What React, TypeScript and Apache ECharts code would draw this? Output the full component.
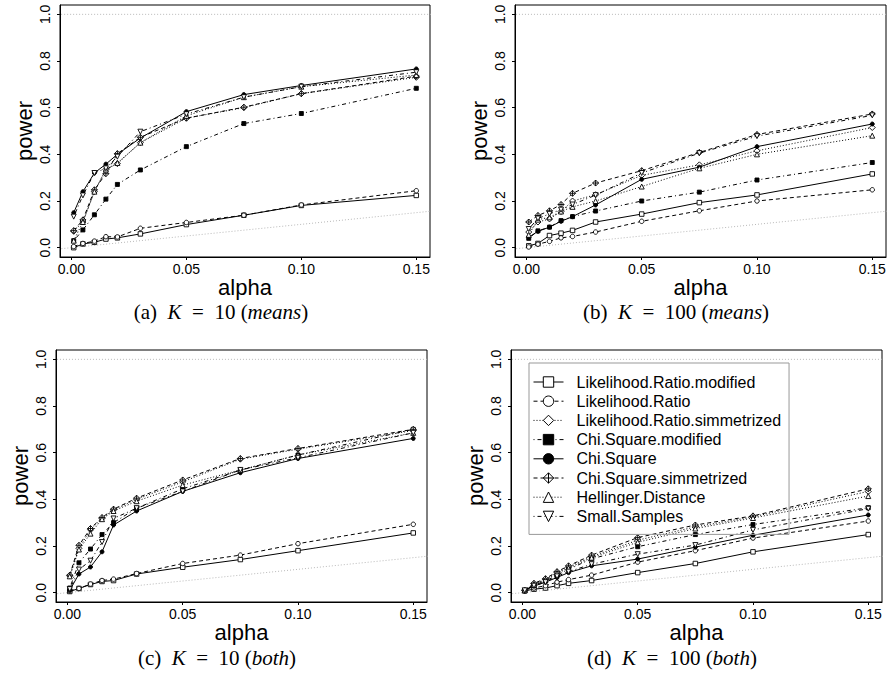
import React, { useEffect, useRef } from "react";
import * as echarts from "echarts";

// ---------- data ----------
const alpha = [0.001, 0.005, 0.01, 0.015, 0.02, 0.03, 0.05, 0.075, 0.1, 0.15];
const seriesNames = [
  "Likelihood.Ratio.modified",
  "Likelihood.Ratio",
  "Likelihood.Ratio.simmetrized",
  "Chi.Square.modified",
  "Chi.Square",
  "Chi.Square.simmetrized",
  "Hellinger.Distance",
  "Small.Samples",
];
const xTicks = [0, 0.05, 0.1, 0.15];
const yTicks = [0, 0.2, 0.4, 0.6, 0.8, 1.0];

// (a) K = 10 (means) — rows follow seriesNames
const powerMeansK10 = [
  [0.0, 0.016, 0.023, 0.037, 0.042, 0.059, 0.099, 0.139, 0.181, 0.224],
  [0.005, 0.018, 0.028, 0.047, 0.046, 0.083, 0.108, 0.139, 0.183, 0.244],
  [0.07, 0.11, 0.24, 0.335, 0.36, 0.45, 0.555, 0.6, 0.66, 0.73],
  [0.03, 0.076, 0.141, 0.208, 0.271, 0.333, 0.433, 0.532, 0.575, 0.683],
  [0.15, 0.24, 0.32, 0.358, 0.4, 0.47, 0.583, 0.656, 0.695, 0.766],
  [0.073, 0.119, 0.248, 0.317, 0.403, 0.473, 0.555, 0.602, 0.66, 0.735],
  [0.03, 0.11, 0.24, 0.335, 0.363, 0.45, 0.565, 0.645, 0.69, 0.74],
  [0.133, 0.224, 0.32, 0.34, 0.39, 0.497, 0.572, 0.645, 0.69, 0.752],
];

// (b) K = 100 (means)
const powerMeansK100 = [
  [0.008, 0.018, 0.052, 0.062, 0.074, 0.11, 0.144, 0.193, 0.226, 0.316],
  [0.003, 0.015, 0.027, 0.042, 0.048, 0.067, 0.113, 0.158, 0.2, 0.248],
  [0.067, 0.11, 0.123, 0.155, 0.2, 0.227, 0.31, 0.355, 0.415, 0.515],
  [0.04, 0.072, 0.088, 0.116, 0.133, 0.157, 0.2, 0.238, 0.29, 0.365],
  [0.045, 0.07, 0.088, 0.113, 0.133, 0.183, 0.293, 0.345, 0.433, 0.53],
  [0.11, 0.138, 0.158, 0.185, 0.233, 0.277, 0.33, 0.408, 0.485, 0.573],
  [0.055, 0.12, 0.13, 0.155, 0.175, 0.2, 0.262, 0.34, 0.4, 0.48],
  [0.08, 0.125, 0.145, 0.163, 0.185, 0.225, 0.32, 0.405, 0.478, 0.567],
];

// (c) K = 10 (both)
const powerBothK10 = [
  [0.005, 0.018, 0.035, 0.048, 0.052, 0.08, 0.109, 0.142, 0.18, 0.256],
  [0.008, 0.018, 0.037, 0.052, 0.058, 0.082, 0.125, 0.161, 0.21, 0.293],
  [0.072, 0.19, 0.27, 0.318, 0.355, 0.4, 0.475, 0.572, 0.615, 0.695],
  [0.02, 0.128, 0.187, 0.249, 0.3, 0.362, 0.445, 0.525, 0.59, 0.7],
  [0.01, 0.08, 0.11, 0.175, 0.29, 0.35, 0.434, 0.514, 0.575, 0.661],
  [0.075, 0.203, 0.275, 0.322, 0.358, 0.405, 0.483, 0.575, 0.618, 0.7],
  [0.07, 0.185, 0.253, 0.315, 0.35, 0.392, 0.461, 0.526, 0.59, 0.685],
  [0.015, 0.099, 0.137, 0.217, 0.318, 0.362, 0.434, 0.526, 0.578, 0.685],
];

// (d) K = 100 (both)
const powerBothK100 = [
  [0.008, 0.015, 0.02, 0.03, 0.04, 0.052, 0.086, 0.125, 0.175, 0.249],
  [0.008, 0.02, 0.03, 0.045, 0.056, 0.075, 0.131, 0.18, 0.234, 0.307],
  [0.01, 0.038, 0.057, 0.087, 0.11, 0.155, 0.225, 0.282, 0.325, 0.434],
  [0.01, 0.033, 0.05, 0.075, 0.1, 0.145, 0.197, 0.249, 0.292, 0.364],
  [0.01, 0.028, 0.045, 0.065, 0.086, 0.115, 0.144, 0.195, 0.246, 0.333],
  [0.011, 0.04, 0.06, 0.09, 0.115, 0.161, 0.236, 0.29, 0.329, 0.445],
  [0.01, 0.035, 0.055, 0.083, 0.105, 0.15, 0.216, 0.275, 0.32, 0.414],
  [0.01, 0.03, 0.045, 0.07, 0.09, 0.122, 0.165, 0.204, 0.269, 0.36],
];

const panels = [powerMeansK10, powerMeansK100, powerBothK10, powerBothK100];
const captionLetters = ["a", "b", "c", "d"];
const captionK = ["10", "100", "10", "100"];
const captionKind = ["means", "means", "both", "both"];

// ---------- styling / layout ----------
const grids = [
  { left: 60, top: 5, width: 370, height: 252 },
  { left: 515, top: 5, width: 371, height: 252 },
  { left: 56, top: 350, width: 371, height: 252 },
  { left: 511, top: 350, width: 371, height: 252 },
];
const captionPos = [
  [221, 312],
  [676, 312],
  [217, 658],
  [672, 658],
];
const diamondPlus = "path://M10,0L20,10L10,20L0,10Z M10,0L10,20 M0,10L20,10";
const symbolDefs: any[] = [
  { symbol: "rect", fill: "#fff", size: 4.5 },
  { symbol: "circle", fill: "#fff", size: 4.5 },
  { symbol: "diamond", fill: "#fff", size: 6 },
  { symbol: "rect", fill: "#000", size: 4 },
  { symbol: "circle", fill: "#000", size: 4 },
  { symbol: diamondPlus, fill: "#fff", size: 6 },
  { symbol: "triangle", fill: "#fff", size: 5 },
  { symbol: "triangle", fill: "#fff", size: 5, rotate: 180 },
];
const dashTypes: any[] = ["solid", [4, 3], [1, 2], [1, 3, 4, 3]];
const SANS = "'Liberation Sans', Arial, Helvetica, sans-serif";
const SERIF = "'Liberation Serif', 'Times New Roman', serif";
const X_MIN = 0.001 - 0.04 * 0.149;
const X_MAX = 0.15 + 0.04 * 0.149;

export default function App() {
  const ref = useRef<HTMLDivElement>(null);
  useEffect(() => {
    if (!ref.current) return;
    const chart = echarts.init(ref.current, undefined, { renderer: "svg" });

    const xAxes = grids.map((_, gi) => ({
      type: "value",
      gridIndex: gi,
      min: X_MIN,
      max: X_MAX,
      name: "alpha",
      nameLocation: "middle",
      nameGap: 19,
      nameMoveOverlap: false,
      nameTextStyle: { fontFamily: SANS, fontSize: 22, color: "#000" },
      axisLine: { show: true, onZero: false, lineStyle: { color: "#000", width: 1 } },
      axisTick: { show: true, length: 3, customValues: xTicks, lineStyle: { color: "#000" } },
      axisLabel: {
        show: true,
        customValues: xTicks,
        formatter: (v: number) => v.toFixed(2),
        fontFamily: SANS,
        fontSize: 14,
        color: "#000",
        margin: 5,
      },
      splitLine: { show: false },
    }));
    const yAxes = grids.map((_, gi) => ({
      type: "value",
      gridIndex: gi,
      min: -0.04,
      max: 1.04,
      name: "power",
      nameLocation: "middle",
      nameGap: 25,
      nameMoveOverlap: false,
      nameTextStyle: { fontFamily: SANS, fontSize: 22, color: "#000" },
      axisLine: { show: true, onZero: false, lineStyle: { color: "#000", width: 1 } },
      axisTick: { show: true, length: 3, customValues: yTicks, lineStyle: { color: "#000" } },
      axisLabel: {
        show: true,
        customValues: yTicks,
        rotate: 90,
        formatter: (v: number) => v.toFixed(1),
        fontFamily: SANS,
        fontSize: 14,
        color: "#000",
        margin: 8,
      },
      splitLine: { show: false },
    }));

    const series: any[] = [];
    grids.forEach((_, gi) => {
      // reference lines: power = 1 and power = alpha
      series.push({
        type: "line",
        xAxisIndex: gi,
        yAxisIndex: gi,
        data: [
          [-1, 1],
          [1, 1],
        ],
        symbol: "none",
        silent: true,
        clip: true,
        lineStyle: { color: "#b8b8b8", width: 1, type: [1, 2] },
        z: 1,
      });
      series.push({
        type: "line",
        xAxisIndex: gi,
        yAxisIndex: gi,
        data: [
          [-1, -1],
          [1, 1],
        ],
        symbol: "none",
        silent: true,
        clip: true,
        lineStyle: { color: "#b8b8b8", width: 1, type: [1, 2] },
        z: 1,
      });
      panels[gi].forEach((vals, si) => {
        const s = symbolDefs[si];
        series.push({
          type: "line",
          name: seriesNames[si],
          xAxisIndex: gi,
          yAxisIndex: gi,
          data: alpha.map((a, j) => [a, vals[j]]),
          symbol: s.symbol,
          symbolSize: s.size,
          symbolRotate: s.rotate || 0,
          showAllSymbol: true,
          itemStyle: { color: s.fill, borderColor: "#000", borderWidth: 0.9 },
          lineStyle: { color: "#000", width: 1, type: dashTypes[si % 4] },
          z: 3,
        });
      });
    });

    const graphic = captionLetters.map((l, i) => ({
      type: "text",
      x: captionPos[i][0],
      y: captionPos[i][1],
      style: {
        text: `{n|(${l})\u2002}{i|K}{n|\u2002=\u2002${captionK[i]} (}{i|${captionKind[i]}}{n|)}`,
        rich: {
          n: { fontFamily: SERIF, fontSize: 21, fill: "#000" },
          i: { fontFamily: SERIF, fontSize: 21, fontStyle: "italic", fill: "#000" },
        },
        fontFamily: SERIF,
        fontSize: 21,
        fill: "#000",
        align: "center",
        verticalAlign: "middle",
      },
    }));

    chart.setOption({
      animation: false,
      backgroundColor: "#fff",
      grid: grids.map((g) => ({
        ...g,
        show: true,
        borderColor: "#000",
        borderWidth: 1,
        backgroundColor: "transparent",
        containLabel: false,
        outerBoundsMode: "none",
      })),
      xAxis: xAxes,
      yAxis: yAxes,
      legend: {
        data: seriesNames,
        orient: "vertical",
        left: 529,
        top: 363,
        padding: [11, 8, 10, 4],
        itemWidth: 30,
        itemHeight: 13,
        itemGap: 3.2,
        borderColor: "#999",
        borderWidth: 1,
        backgroundColor: "transparent",
        selectedMode: false,
        itemStyle: { borderWidth: 1 },
        lineStyle: { width: 1 },
        textStyle: { fontFamily: SANS, fontSize: 16, color: "#000", padding: [0, 0, 0, 8] },
      },
      graphic,
      series,
    });
    return () => chart.dispose();
  }, []);
  return (
    <div
      ref={ref}
      style={{ position: "absolute", left: 0, top: 0, width: 887, height: 677 }}
    />
  );
}
